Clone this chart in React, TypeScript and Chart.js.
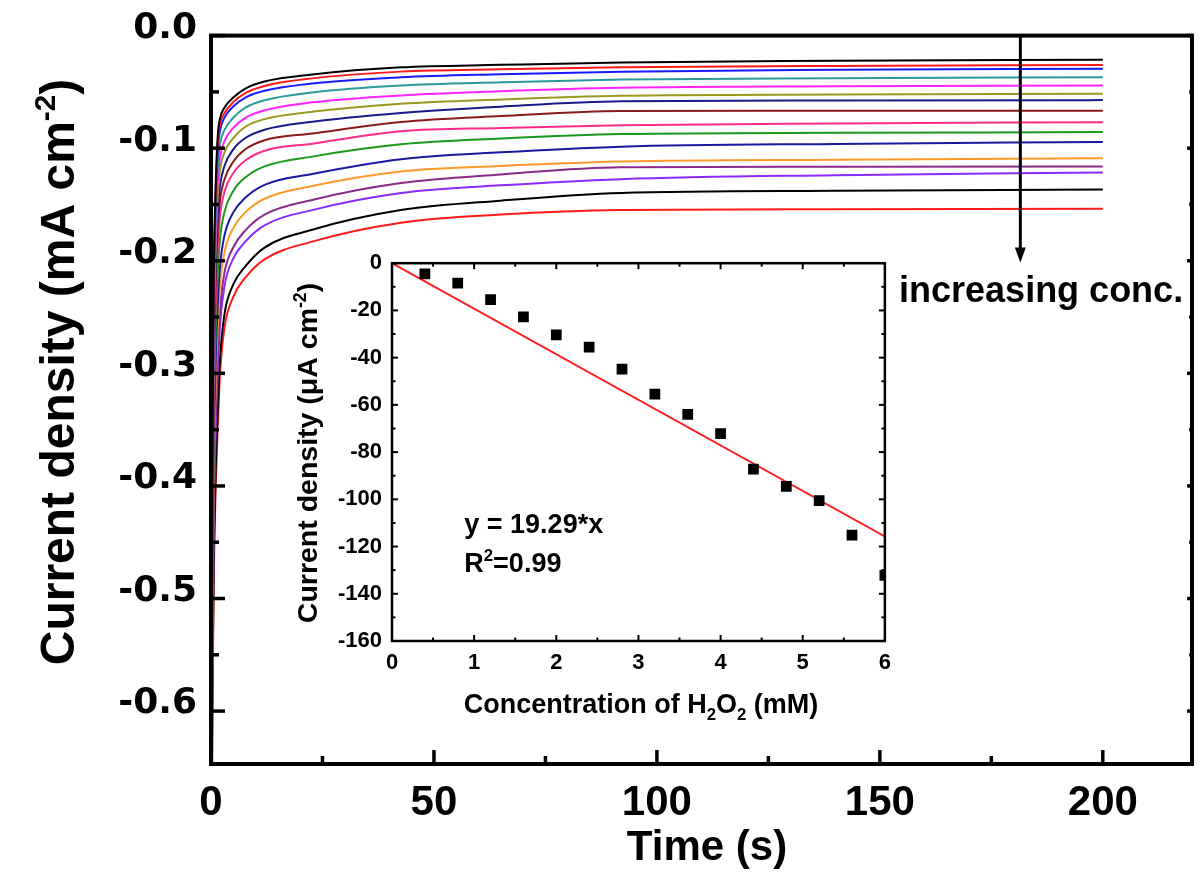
import React, { useEffect, useRef } from "react";
import { Chart, registerables } from "chart.js";

Chart.register(...registerables);

// ---------- Main chart data (current density, mA cm-2, vs time, s) ----------
const timeS = [0, 0.3, 0.6, 1, 1.5, 2, 3, 5, 7.7, 12, 22.7, 42.6, 65, 92, 140, 200];

const curve01 = [-0.85, -0.38, -0.22, -0.14, -0.09, -0.074, -0.064, -0.055, -0.047, -0.0407, -0.0345, -0.0282, -0.026, -0.0238, -0.0224, -0.0214];
const curve02 = [-0.85, -0.386, -0.226, -0.146, -0.096, -0.079, -0.069, -0.059, -0.051, -0.0447, -0.038, -0.032, -0.0299, -0.0282, -0.0269, -0.0261];
const curve03 = [-0.85, -0.391, -0.233, -0.153, -0.102, -0.085, -0.073, -0.063, -0.055, -0.049, -0.0425, -0.037, -0.0343, -0.032, -0.0304, -0.0294];
const curve04 = [-0.85, -0.403, -0.247, -0.167, -0.116, -0.097, -0.084, -0.073, -0.064, -0.0574, -0.0505, -0.0443, -0.0415, -0.039, -0.0378, -0.037];
const curve05 = [-0.85, -0.416, -0.262, -0.182, -0.13, -0.109, -0.094, -0.082, -0.073, -0.0664, -0.0593, -0.0531, -0.0494, -0.0464, -0.0451, -0.0443];
const curve06 = [-0.85, -0.426, -0.275, -0.195, -0.143, -0.12, -0.104, -0.091, -0.081, -0.0742, -0.0677, -0.0605, -0.0567, -0.0535, -0.0524, -0.0517];
const curve07 = [-0.85, -0.44, -0.291, -0.211, -0.158, -0.134, -0.116, -0.101, -0.091, -0.0836, -0.0765, -0.0687, -0.0631, -0.0584, -0.0577, -0.0573];
const curve08 = [-0.85, -0.454, -0.307, -0.227, -0.173, -0.147, -0.128, -0.112, -0.101, -0.0929, -0.087, -0.0767, -0.0715, -0.067, -0.0668, -0.0667];
const curve09 = [-0.85, -0.468, -0.323, -0.243, -0.189, -0.161, -0.139, -0.122, -0.111, -0.1023, -0.096, -0.0849, -0.082, -0.0796, -0.078, -0.0769];
const curve10 = [-0.85, -0.488, -0.347, -0.267, -0.212, -0.181, -0.157, -0.138, -0.126, -0.1162, -0.1075, -0.0966, -0.0915, -0.0875, -0.0864, -0.0857];
const curve11 = [-0.85, -0.513, -0.376, -0.296, -0.24, -0.206, -0.178, -0.157, -0.144, -0.1326, -0.123, -0.1099, -0.1037, -0.0987, -0.0962, -0.0945];
const curve12 = [-0.85, -0.531, -0.397, -0.317, -0.26, -0.223, -0.193, -0.171, -0.157, -0.1449, -0.1336, -0.1207, -0.1158, -0.1119, -0.1102, -0.109];
const curve13 = [-0.85, -0.553, -0.423, -0.343, -0.285, -0.245, -0.211, -0.188, -0.173, -0.159, -0.146, -0.131, -0.1233, -0.1169, -0.1165, -0.1163];
const curve14 = [-0.85, -0.566, -0.439, -0.359, -0.301, -0.259, -0.223, -0.198, -0.183, -0.1686, -0.155, -0.1398, -0.133, -0.1275, -0.124, -0.1216];
const curve15 = [-0.85, -0.596, -0.474, -0.394, -0.334, -0.288, -0.248, -0.221, -0.205, -0.1883, -0.1725, -0.155, -0.1466, -0.1398, -0.1379, -0.1366];
const curve16 = [-0.85, -0.61, -0.49, -0.41, -0.35, -0.302, -0.26, -0.232, -0.215, -0.1987, -0.183, -0.1662, -0.159, -0.155, -0.1543, -0.1539];

const curves = [curve01, curve02, curve03, curve04, curve05, curve06, curve07, curve08, curve09, curve10, curve11, curve12, curve13, curve14, curve15, curve16];
const curveColors = ["#000000", "#ff1a1a", "#1a1aff", "#2a9a9a", "#ff22ff", "#9a9a22", "#1a1a8a", "#8a1a1a", "#ff2a8a", "#1a9a1a", "#1a1aa0", "#ff9a2a", "#8a2a8a", "#8a2aff", "#000000", "#ff1a1a"];

const mainXTicks = [0, 50, 100, 150, 200];
const mainXMinor = [25, 75, 125, 175];
const mainYTicks = [0, -0.1, -0.2, -0.3, -0.4, -0.5, -0.6];
const mainYMinor = [-0.05, -0.15, -0.25, -0.35, -0.45, -0.55];

// ---------- Inset data (current density, uA cm-2, vs H2O2 concentration, mM) ----------
const concMM = [0.4, 0.8, 1.2, 1.6, 2.0, 2.4, 2.8, 3.2, 3.6, 4.0, 4.4, 4.8, 5.2, 5.6, 6.0];
const currentUA = [-4.5, -8.4, -15.4, -22.7, -30.4, -35.5, -44.9, -55.4, -64, -72.2, -87.2, -94.5, -100.6, -115.2, -132.2];
const fitConc = [0, 6];
const fitSlope = -19.29;

const insetXTicks = [0, 1, 2, 3, 4, 5, 6];
const insetXMinor = [0.5, 1.5, 2.5, 3.5, 4.5, 5.5];
const insetYTicks = [0, -20, -40, -60, -80, -100, -120, -140, -160];
const insetYMinor = [-10, -30, -50, -70, -90, -110, -130, -150];

const FONT = '"Liberation Sans", Arial, Helvetica, sans-serif';

type Seg = { t: string; s?: "sup" | "sub" };

function drawRich(ctx: CanvasRenderingContext2D, segs: Seg[], x: number, y: number, size: number, rot: number, align: "center" | "left") {
  ctx.save();
  ctx.translate(x, y);
  if (rot) ctx.rotate(rot);
  const small = size * 0.62;
  const fMain = `bold ${size}px ${FONT}`;
  const fSmall = `bold ${small}px ${FONT}`;
  let total = 0;
  const widths = segs.map((sg) => {
    ctx.font = sg.s ? fSmall : fMain;
    const w = ctx.measureText(sg.t).width;
    total += w;
    return w;
  });
  let cx = align === "left" ? 0 : -total / 2;
  ctx.textBaseline = "alphabetic";
  ctx.textAlign = "left";
  ctx.fillStyle = "#000";
  const base = size * 0.36;
  segs.forEach((sg, i) => {
    ctx.font = sg.s ? fSmall : fMain;
    const dy = sg.s === "sup" ? -size * 0.4 : sg.s === "sub" ? size * 0.28 : 0;
    ctx.fillText(sg.t, cx, base + dy);
    cx += widths[i];
  });
  ctx.restore();
}

type FrameCfg = {
  lw: number;
  xMajor: number[];
  xMinor: number[];
  yMajor: number[];
  yMinor: number[];
  major: number;
  minor: number;
  tickW: number;
  top: boolean;
  right: number;
};

function frameTicks(cfg: FrameCfg) {
  return {
    id: "frameTicks",
    afterDatasetsDraw(chart: any) {
      const { ctx, chartArea: a, scales } = chart;
      const xs = scales.x;
      const ys = scales.y;
      ctx.save();
      ctx.strokeStyle = "#000";
      ctx.lineCap = "butt";
      ctx.lineWidth = cfg.tickW;
      const vt = (px: number, y0: number, len: number) => {
        ctx.beginPath();
        ctx.moveTo(px, y0);
        ctx.lineTo(px, y0 + len);
        ctx.stroke();
      };
      const ht = (py: number, x0: number, len: number) => {
        ctx.beginPath();
        ctx.moveTo(x0, py);
        ctx.lineTo(x0 + len, py);
        ctx.stroke();
      };
      cfg.xMajor.forEach((v) => {
        const p = xs.getPixelForValue(v);
        vt(p, a.bottom, -cfg.major);
        if (cfg.top) vt(p, a.top, cfg.major);
      });
      cfg.xMinor.forEach((v) => {
        const p = xs.getPixelForValue(v);
        vt(p, a.bottom, -cfg.minor);
        if (cfg.top) vt(p, a.top, cfg.minor);
      });
      cfg.yMajor.forEach((v) => {
        const p = ys.getPixelForValue(v);
        ht(p, a.left, cfg.major);
        if (cfg.right) ht(p, a.right, -cfg.major * cfg.right);
      });
      cfg.yMinor.forEach((v) => {
        const p = ys.getPixelForValue(v);
        ht(p, a.left, cfg.minor);
        if (cfg.right) ht(p, a.right, -cfg.minor * cfg.right);
      });
      ctx.lineWidth = cfg.lw;
      ctx.lineJoin = "miter";
      ctx.strokeRect(a.left, a.top, a.right - a.left, a.bottom - a.top);
      ctx.restore();
    },
  };
}

const mainText = {
  id: "mainText",
  afterDraw(chart: any) {
    const { ctx, chartArea: a, scales } = chart;
    const xs = scales.x;
    const ys = scales.y;
    // arrow
    const ax = xs.getPixelForValue(181.5);
    const tip = ys.getPixelForValue(-0.2015);
    ctx.save();
    ctx.strokeStyle = "#000";
    ctx.fillStyle = "#000";
    ctx.lineWidth = 3;
    ctx.beginPath();
    ctx.moveTo(ax, a.top);
    ctx.lineTo(ax, tip - 12);
    ctx.stroke();
    ctx.beginPath();
    ctx.moveTo(ax - 5.5, tip - 15);
    ctx.lineTo(ax + 5.5, tip - 15);
    ctx.lineTo(ax, tip);
    ctx.closePath();
    ctx.fill();
    ctx.restore();
    drawRich(ctx, [{ t: "increasing conc." }], xs.getPixelForValue(154.3), ys.getPixelForValue(-0.2255), 36, 0, "left");
    // axis titles
    drawRich(ctx, [{ t: "Time (s)" }], 707, 845, 42, 0, "center");
    drawRich(ctx, [{ t: "Current density (mA cm" }, { t: "-2", s: "sup" }, { t: ")" }], 57, 372, 48, -Math.PI / 2, "center");
  },
};

const insetText = {
  id: "insetText",
  afterDraw(chart: any) {
    const { ctx, scales } = chart;
    const xs = scales.x;
    const ys = scales.y;
    drawRich(ctx, [{ t: "y = 19.29*x" }], xs.getPixelForValue(0.88), ys.getPixelForValue(-110), 27, 0, "left");
    drawRich(ctx, [{ t: "R" }, { t: "2", s: "sup" }, { t: "=0.99" }], xs.getPixelForValue(0.88), ys.getPixelForValue(-126.5), 27, 0, "left");
    drawRich(ctx, [{ t: "Concentration of H" }, { t: "2", s: "sub" }, { t: "O" }, { t: "2", s: "sub" }, { t: " (mM)" }], 361, 463, 27, 0, "center");
    drawRich(ctx, [{ t: "Current density (μA cm" }, { t: "-2", s: "sup" }, { t: ")" }], 27, 213, 28.5, -Math.PI / 2, "center");
  },
};

export default function App() {
  const mainRef = useRef<HTMLCanvasElement>(null);
  const insetRef = useRef<HTMLCanvasElement>(null);

  useEffect(() => {
    document.body.style.margin = "0";
    const mainChart = new Chart(mainRef.current as HTMLCanvasElement, {
      type: "line",
      data: {
        datasets: curves.map((c, i) => ({
          data: timeS.map((t, j) => ({ x: t, y: c[j] })),
          borderColor: curveColors[i],
          borderWidth: 2,
          pointRadius: 0,
          fill: false,
          cubicInterpolationMode: "monotone" as const,
        })),
      },
      options: {
        responsive: false,
        animation: false,
        devicePixelRatio: 1,
        layout: { padding: { left: 0, right: 8, top: 26, bottom: 0 } },
        plugins: { legend: { display: false }, tooltip: { enabled: false } },
        scales: {
          x: {
            type: "linear",
            min: 0,
            max: 220,
            afterBuildTicks: (s: any) => {
              s.ticks = mainXTicks.map((v) => ({ value: v }));
            },
            afterFit: (s: any) => {
              s.height = 113;
            },
            grid: { display: false, drawTicks: false },
            border: { display: false },
            ticks: { color: "#000", padding: 14, maxRotation: 0, autoSkip: false, font: { family: FONT, size: 42, weight: "bold" } },
          },
          y: {
            type: "linear",
            min: -0.647,
            max: 0,
            afterBuildTicks: (s: any) => {
              s.ticks = mainYTicks.map((v) => ({ value: v }));
            },
            afterFit: (s: any) => {
              s.width = 211;
            },
            grid: { display: false, drawTicks: false },
            border: { display: false },
            ticks: {
              color: "#000",
              padding: 14,
              labelOffset: -7,
              autoSkip: false,
              font: { family: '"DejaVu Sans", sans-serif', size: 36, weight: "bold" },
              callback: (v: any) => Number(v).toFixed(1),
            },
          },
        },
      },
      plugins: [
        frameTicks({ lw: 4, xMajor: mainXTicks, xMinor: mainXMinor, yMajor: mainYTicks, yMinor: mainYMinor, major: 14, minor: 8, tickW: 3.5, top: false, right: 0.35 }),
        mainText,
      ],
    } as any);

    const insetChart = new Chart(insetRef.current as HTMLCanvasElement, {
      type: "scatter",
      data: {
        datasets: [
          {
            data: concMM.map((x, i) => ({ x, y: currentUA[i] })),
            pointStyle: "rect",
            pointRadius: 7.6,
            backgroundColor: "#000",
            borderWidth: 0,
            showLine: false,
          },
          {
            data: fitConc.map((x) => ({ x, y: fitSlope * x })),
            showLine: true,
            pointRadius: 0,
            borderColor: "#ff1a1a",
            borderWidth: 2,
          },
        ],
      },
      options: {
        responsive: false,
        animation: false,
        devicePixelRatio: 1,
        layout: { padding: { left: 0, right: 11, top: 14, bottom: 0 } },
        plugins: { legend: { display: false }, tooltip: { enabled: false } },
        scales: {
          x: {
            type: "linear",
            min: 0,
            max: 6,
            afterBuildTicks: (s: any) => {
              s.ticks = insetXTicks.map((v) => ({ value: v }));
            },
            afterFit: (s: any) => {
              s.height = 89;
            },
            grid: { display: false, drawTicks: false },
            border: { display: false },
            ticks: { color: "#000", padding: 9, maxRotation: 0, autoSkip: false, font: { family: FONT, size: 22, weight: "bold" } },
          },
          y: {
            type: "linear",
            min: -160,
            max: 0,
            afterBuildTicks: (s: any) => {
              s.ticks = insetYTicks.map((v) => ({ value: v }));
            },
            afterFit: (s: any) => {
              s.width = 112;
            },
            grid: { display: false, drawTicks: false },
            border: { display: false },
            ticks: { color: "#000", padding: 10, autoSkip: false, font: { family: FONT, size: 22, weight: "bold" } },
          },
        },
      },
      plugins: [
        frameTicks({ lw: 2.5, xMajor: insetXTicks, xMinor: insetXMinor, yMajor: insetYTicks, yMinor: insetYMinor, major: 6, minor: 3.5, tickW: 2, top: true, right: 1 }),
        insetText,
      ],
    } as any);

    return () => {
      mainChart.destroy();
      insetChart.destroy();
    };
  }, []);

  return (
    <div style={{ position: "absolute", left: 0, top: 0, width: 1200, height: 877, background: "#fff" }}>
      <canvas ref={mainRef} width={1200} height={877} style={{ position: "absolute", left: 0, top: 0, width: 1200, height: 877 }} />
      <canvas ref={insetRef} width={620} height={490} style={{ position: "absolute", left: 280, top: 240, width: 620, height: 490 }} />
    </div>
  );
}
